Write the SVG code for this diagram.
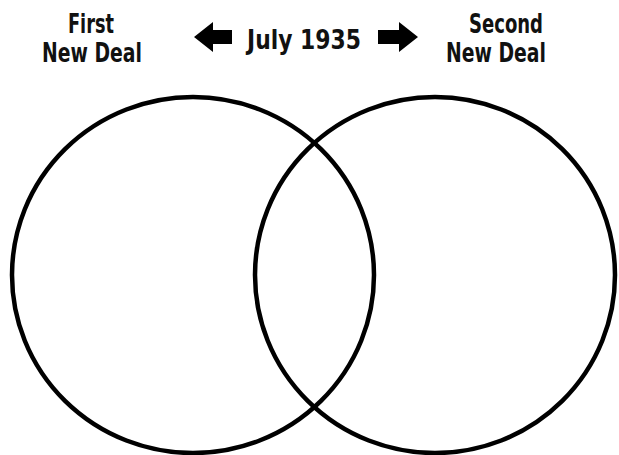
<svg xmlns="http://www.w3.org/2000/svg" width="619" height="455" viewBox="0 0 619 455">
<style>
.lbl{font-family:"DejaVu Sans Condensed","DejaVu Sans",sans-serif;font-weight:bold;font-size:27px;fill:#111;text-anchor:middle}
.ring{fill:none;stroke:#000;stroke-width:4.5}
.arr{fill:#000}
</style>
<rect width="619" height="455" fill="#fff"/>
<g id="first-new-deal">
<ellipse class="ring" cx="193" cy="275" rx="181" ry="178"/>
<text class="lbl" x="91" y="33" textLength="46" lengthAdjust="spacingAndGlyphs">First</text>
<text class="lbl" x="92" y="62" textLength="100" lengthAdjust="spacingAndGlyphs">New Deal</text>
</g>
<g id="second-new-deal">
<ellipse class="ring" cx="435" cy="275" rx="180" ry="178"/>
<text class="lbl" x="506" y="33" textLength="74" lengthAdjust="spacingAndGlyphs">Second</text>
<text class="lbl" x="496" y="62" textLength="100" lengthAdjust="spacingAndGlyphs">New Deal</text>
</g>
<g id="july-1935">
<text class="lbl" x="304" y="49" textLength="114" lengthAdjust="spacingAndGlyphs">July 1935</text>
</g>
<g id="connectors">
<polygon class="arr" points="194,37 213,22 213,30 232,30 232,44 213,44 213,52"/>
<polygon class="arr" points="418,37 399,22 399,30 378,30 378,44 399,44 399,52"/>
</g>
</svg>
